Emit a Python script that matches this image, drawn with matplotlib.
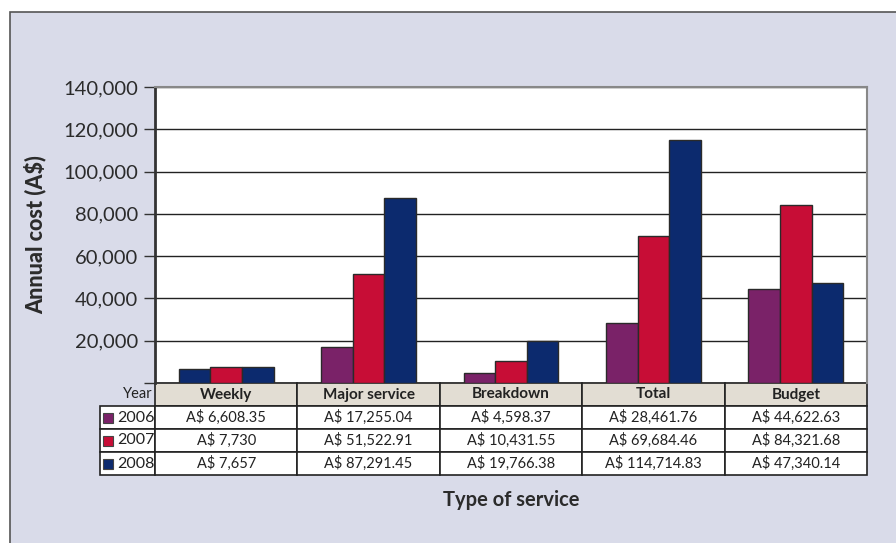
import numpy as np
import matplotlib.pyplot as plt
from matplotlib.patches import Rectangle

plt.rcParams['font.family'] = ['Lato', 'DejaVu Sans']

# data
services = ['Weekly', 'Major service', 'Breakdown', 'Total', 'Budget']
years = ['2006', '2007', '2008']
cost_2006 = [6608.35, 17255.04, 4598.37, 28461.76, 44622.63]
cost_2007 = [7730, 51522.91, 10431.55, 69684.46, 84321.68]
cost_2008 = [7657, 87291.45, 19766.38, 114714.83, 47340.14]
labels_2006 = ['A$ 6,608.35', 'A$ 17,255.04', 'A$ 4,598.37', 'A$ 28,461.76', 'A$ 44,622.63']
labels_2007 = ['A$ 7,730', 'A$ 51,522.91', 'A$ 10,431.55', 'A$ 69,684.46', 'A$ 84,321.68']
labels_2008 = ['A$ 7,657', 'A$ 87,291.45', 'A$ 19,766.38', 'A$ 114,714.83', 'A$ 47,340.14']
yticks = [0, 20000, 40000, 60000, 80000, 100000, 120000, 140000]

purple = '#7a2268'
red = '#c70d36'
navy = '#0c2a6e'
lavender = '#d9dbe9'
beige = '#e2ddd3'

W, H = 896, 543
fig = plt.figure(figsize=(W / 100, H / 100), dpi=100)
fig.patch.set_facecolor('white')
fig.patches.append(Rectangle((10 / W, -0.01), 1.0, 1 - 12 / H + 0.01, transform=fig.transFigure,
                             facecolor=lavender, edgecolor='#555555', linewidth=1.2, zorder=-10))

ax = fig.add_axes([155 / W, 1 - 383 / H, 712 / W, 296 / H])
ax.set_facecolor('white')

x = np.arange(len(services))
bw = 0.222
# first 2006 bar of "Weekly" is drawn in navy in the original
c2006 = [navy] + [purple] * 4
ax.bar(x - bw, cost_2006, bw, color=c2006, edgecolor='#2a2a2a', linewidth=1, zorder=3)
ax.bar(x, cost_2007, bw, color=red, edgecolor='#2a2a2a', linewidth=1, zorder=3)
ax.bar(x + bw, cost_2008, bw, color=navy, edgecolor='#2a2a2a', linewidth=1, zorder=3)

ax.set_xlim(-0.5, len(services) - 0.5)
ax.set_ylim(0, 140000)
ax.set_yticks(yticks)
ax.set_yticklabels([''] + [f'{v:,}' for v in yticks[1:]], fontsize=14.5, color='#2b2b2b')
ax.tick_params(axis='y', length=8, width=1, color='#333333', pad=4)
ax.set_xticks([])
ax.yaxis.grid(True, color='#222222', linewidth=1)
ax.set_axisbelow(True)
for s in ['top', 'right']:
    ax.spines[s].set_color('#888888')
    ax.spines[s].set_linewidth(1.5)
ax.spines['left'].set_color('#333333')
ax.spines['left'].set_linewidth(2)
ax.spines['bottom'].set_visible(False)

ax.set_ylabel('Annual cost (A$)', fontsize=15.5, fontweight='black', color='#2b2b2b', labelpad=12)

# data table
cell_text = [['Year'] + services]
for yr, row in zip(years, [labels_2006, labels_2007, labels_2008]):
    cell_text.append([yr] + row)

tab_h = 92 / 296
tab = ax.table(cellText=cell_text, colWidths=[55] + [142.4] * 5,
               bbox=[-55 / 712, -tab_h, 767 / 712, tab_h], cellLoc='center')
tab.auto_set_font_size(False)
for (r, c), cell in tab.get_celld().items():
    cell.set_linewidth(1.2)
    cell.set_edgecolor('#222222')
    cell.get_text().set_fontsize(10.5)
    cell.get_text().set_color('#222222')
    if r == 0 and c == 0:
        cell.set_facecolor(lavender)
        cell.visible_edges = ''
        cell.get_text().set_ha('right')
        cell.PAD = 0.05
    elif r == 0:
        cell.set_facecolor(beige)
        cell.get_text().set_fontweight('bold')
        cell.get_text().set_fontsize(11)
    elif c == 0:
        cell.get_text().set_ha('right')
        cell.PAD = 0.01
        cell.get_text().set_fontsize(11.5)
    else:
        cell.set_facecolor('white')

# legend keys inside the year column
row_h = tab_h / 4
for i, col in enumerate([purple, red, navy]):
    yc = -row_h * (i + 1.5)
    ax.add_patch(Rectangle((-52 / 712, yc - 5 / 296), 10 / 712, 10 / 296, transform=ax.transAxes,
                           facecolor=col, edgecolor='#444444', linewidth=0.8, clip_on=False, zorder=5))

fig.text(511 / W, 1 - 500 / H, 'Type of service', ha='center', va='center',
         fontsize=14.5, fontweight='bold', color='#2b2b2b')

fig.savefig('out.png', dpi=100)
